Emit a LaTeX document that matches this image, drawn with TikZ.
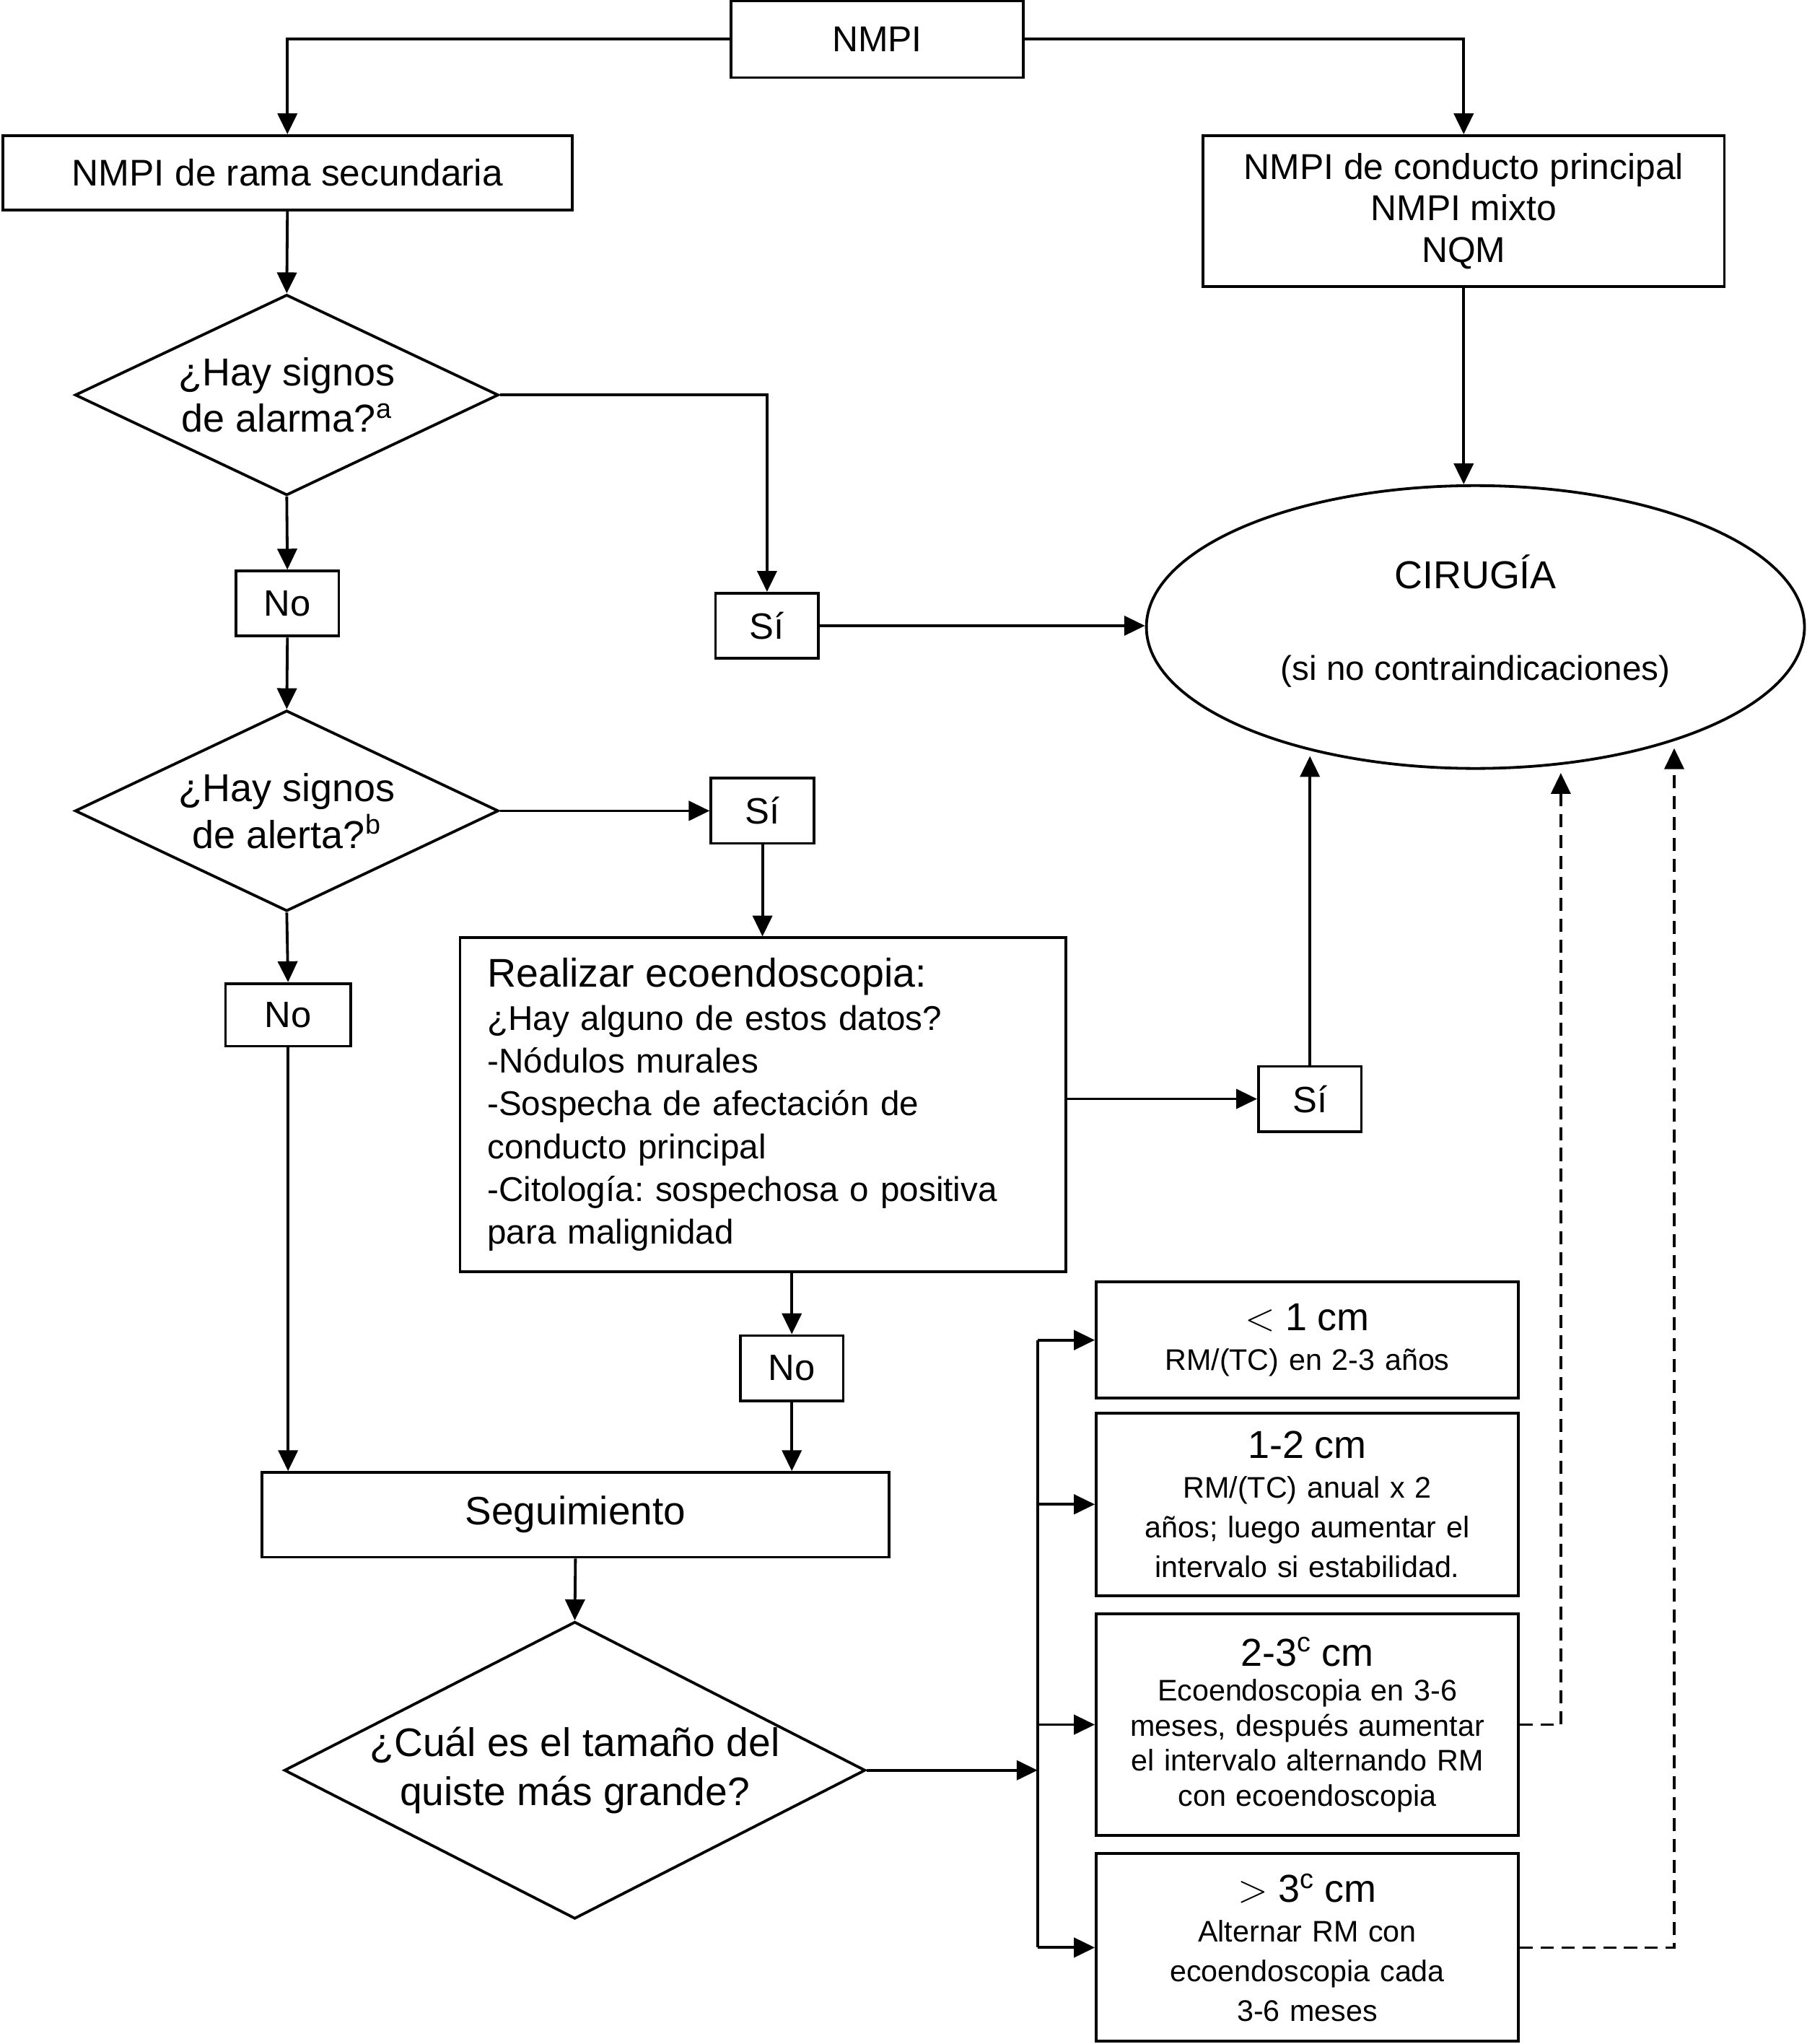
\documentclass[tikz,border=0pt]{standalone}
\usepackage{fontspec}
\setmainfont{Liberation Sans}
\usetikzlibrary{shapes.geometric,arrows.meta,positioning,calc}
\frenchspacing

\begin{document}
\begin{tikzpicture}[x=0.02cm,y=-0.02cm,
  every node/.style={line width=1.2pt, inner sep=0pt},
  caja/.style={rectangle, draw, align=center, font=\fontsize{15.7}{18.2}\selectfont},
  rombo/.style={diamond, draw, align=center, aspect=2.1, minimum width=6.5cm, minimum height=3.08cm, font=\fontsize{17}{20.4}\selectfont},
  resp/.style={rectangle, draw, minimum width=1.58cm, minimum height=1cm, font=\fontsize{16}{19}\selectfont},
  tam/.style={rectangle, draw, minimum width=6.48cm, text width=6.2cm, align=center, font=\fontsize{13}{17.3}\selectfont},
  flecha/.style={line width=1.2pt, -{Triangle[length=0.32cm,width=0.3cm]}},
  linea/.style={line width=1.2pt},
  discont/.style={line width=1.1pt, dash pattern=on 0.2cm off 0.12cm, -{Triangle[length=0.32cm,width=0.3cm]}}]
\useasboundingbox (0,0) rectangle (1386,1568);

\node[caja, minimum width=4.48cm, minimum height=1.18cm] (nmpi) at (673,30) {NMPI};
\node[caja, minimum width=8.74cm, minimum height=1.14cm, font=\fontsize{16.2}{19}\selectfont] (rama) at (220.5,132.5) {NMPI de rama secundaria};
\node[caja, minimum width=8cm, minimum height=2.32cm] (ppal) at (1123,162) {NMPI de conducto principal\\NMPI mixto\\NQM};

\node[rombo] (alarma) at (220,303) {¿Hay signos\\de alarma?\textsuperscript{a}};
\node[resp] (no1) at (220.5,463) {No};
\node[resp] (si1) at (588.5,480) {Sí};
\node[rombo] (alerta) at (220,622) {¿Hay signos\\de alerta?\textsuperscript{b}};
\node[resp] (si2) at (585,622) {Sí};
\node[resp, minimum width=1.92cm, minimum height=0.96cm] (no2) at (221,778.5) {No};

\node[rectangle, draw, minimum width=9.3cm, minimum height=5.12cm, text width=8.46cm, align=left, font=\fontsize{15}{18.7}\selectfont] (eco) at (585.4,847.4)
  {{\fontsize{17.5}{18.7}\selectfont Realizar ecoendoscopia:}\\¿Hay alguno de estos datos?\\-Nódulos murales\\-Sospecha de afectación de\\conducto principal\\-Citología: sospechosa o positiva\\para malignidad};
\node[resp] (si3) at (1005,843) {Sí};
\node[resp] (no3) at (607.5,1049.5) {No};

\node[caja, minimum width=9.62cm, minimum height=1.3cm, font=\fontsize{17.3}{20}\selectfont] (seg) at (441.5,1162) {Seguimiento};
\node[rombo, aspect=1.96, inner xsep=-0.15cm, inner ysep=-0.1cm, minimum width=8.92cm, minimum height=4.56cm, font=\fontsize{17.4}{21.5}\selectfont] (tamano) at (441,1358) {¿Cuál es el tamaño del\\quiste más grande?};

\node[ellipse, draw, minimum width=10.1cm, minimum height=4.34cm, align=center, text depth=0.3cm, font=\fontsize{15}{18}\selectfont] (cirugia) at (1132,481)
  {{\fontsize{17}{20}\selectfont CIRUGÍA}\\[22pt](si no contraindicaciones)};

% tamanos del quiste
\node[tam, minimum height=1.78cm] (menos1) at (1003,1028) {{\fontsize{17}{20}\selectfont $<$ 1 cm}\\RM/(TC) en 2-3 años};
\node[tam, minimum height=2.8cm] (uno2) at (1003,1154) {{\fontsize{17}{20}\selectfont 1-2 cm}\\RM/(TC) anual x 2\\años; luego aumentar el\\intervalo si estabilidad.};
\node[tam, minimum height=3.4cm, font=\fontsize{13}{15.3}\selectfont] (dos3) at (1003,1323) {{\fontsize{17}{20}\selectfont 2-3\textsuperscript{c} cm}\\Ecoendoscopia en 3-6\\meses, después aumentar\\el intervalo alternando RM\\con ecoendoscopia};
\node[tam, minimum height=2.88cm] (mas3) at (1003,1494) {{\fontsize{17}{20}\selectfont $>$ 3\textsuperscript{c} cm}\\Alternar RM con\\ecoendoscopia cada\\3-6 meses};

\coordinate (bus) at (796,0);
\coordinate (puntaSi) at (1005,580);
\coordinate (puntaA) at (1197.5,593);
\coordinate (puntaB) at (1284.5,574);

\draw[flecha] (nmpi.west) -| (rama.north);
\draw[flecha] (nmpi.east) -| (ppal.north);
\draw[flecha] (rama.south) -- (alarma.north);
\draw[flecha] (ppal.south) -- (ppal.south |- cirugia.north);
\draw[flecha] (alarma.east) -| (si1.north);
\draw[flecha] (si1.east) -- (si1.east -| cirugia.west);
\draw[flecha] (alarma.south) -- (no1.north);
\draw[flecha] (no1.south) -- (alerta.north);
\draw[flecha] (alerta.east) -- (si2.west);
\draw[flecha] (si2.south) -- (si2.south |- eco.north);
\draw[flecha] (alerta.south) -- (no2.north);
\draw[flecha] (no2.south) -- (no2.south |- seg.north);
\draw[flecha] (eco.east |- si3.west) -- (si3.west);
\draw[flecha] (si3.north) -- (puntaSi);
\draw[flecha] (no3.north |- eco.south) -- (no3.north);
\draw[flecha] (no3.south) -- (no3.south |- seg.north);
\draw[flecha] (seg.south) -- (tamano.north);
\draw[flecha] (tamano.east) -- (tamano.east -| bus);
\draw[linea] (menos1.west -| bus) -- (mas3.west -| bus);
\foreach \t in {menos1,uno2,dos3,mas3}
  \draw[flecha] (\t.west -| bus) -- (\t.west);
\draw[discont] (dos3.east) -| (puntaA);
\draw[discont] (mas3.east) -| (puntaB);
\end{tikzpicture}
\end{document}
